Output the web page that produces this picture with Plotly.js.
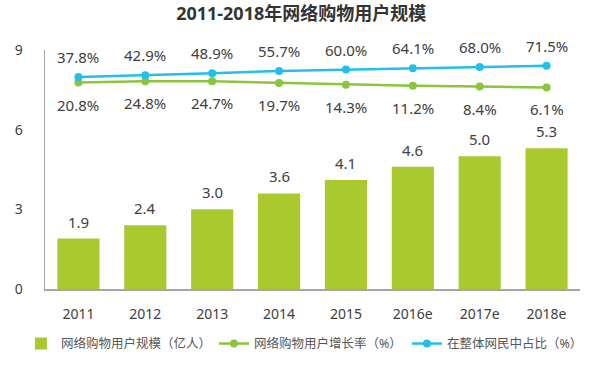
<!DOCTYPE html>
<html>
<head>
<meta charset="utf-8">
<script src="https://cdn.plot.ly/plotly-3.0.1.min.js"></script>
<style>html,body{margin:0;padding:0;background:#fff;}#chart{width:600px;height:366px;}</style>
</head>
<body>
<div id="chart"></div>
<script>
var years = ['2011', '2012', '2013', '2014', '2015', '2016e', '2017e', '2018e'];
var users = [1.9, 2.4, 3.0, 3.6, 4.1, 4.6, 5.0, 5.3];
var growth = [20.8, 24.8, 24.7, 19.7, 14.3, 11.2, 8.4, 6.1];
var share = [37.8, 42.9, 48.9, 55.7, 60.0, 64.1, 68.0, 71.5];
var yTicks = [0, 3, 6, 9];

var barColor = '#a9c92f';
var greenLine = '#8cc43c';
var blueLine = '#22c0e8';
var textColor = '#404040';
var fontFam = '"Noto Sans", "Noto Sans CJK SC", sans-serif';

var traces = [
  {type: 'bar', name: '网络购物用户规模（亿人）', x: years, y: users,
   marker: {color: barColor}, hoverinfo: 'none'},
  {type: 'scatter', mode: 'lines+markers', name: '网络购物用户增长率（%）', x: years, y: growth, yaxis: 'y2',
   line: {color: greenLine, width: 2.5}, marker: {color: greenLine, size: 8}},
  {type: 'scatter', mode: 'lines+markers', name: '在整体网民中占比（%）', x: years, y: share, yaxis: 'y2',
   line: {color: blueLine, width: 2.5}, marker: {color: blueLine, size: 8}}
];

var annotations = [];
years.forEach(function (yr, i) {
  // category axis: annotation x is the category index
  annotations.push({x: i, y: users[i], xref: 'x', yref: 'y', text: users[i].toFixed(1),
    showarrow: false, yanchor: 'bottom', yshift: 5, font: {size: 15, color: textColor, family: fontFam}});
  annotations.push({x: i, y: share[i], xref: 'x', yref: 'y2', text: share[i].toFixed(1) + '%',
    showarrow: false, yanchor: 'middle', yshift: 20, font: {size: 15, color: textColor, family: fontFam}});
  annotations.push({x: i, y: growth[i], xref: 'x', yref: 'y2', text: growth[i].toFixed(1) + '%',
    showarrow: false, yanchor: 'middle', yshift: -22, font: {size: 15, color: textColor, family: fontFam}});
});

var layout = {
  width: 600, height: 366,
  margin: {l: 45, r: 20, t: 50, b: 77, autoexpand: false},
  paper_bgcolor: '#ffffff', plot_bgcolor: '#ffffff',
  font: {family: fontFam, color: textColor, size: 14},
  title: {text: '<b>2011-2018年网络购物用户规模</b>', x: 0.502, xanchor: 'center', y: 0.962, yanchor: 'middle',
          font: {size: 18, color: '#333333', family: fontFam}},
  bargap: 0.37,
  showlegend: true,
  legend: {orientation: 'h', x: -0.045, xanchor: 'left', y: -0.167, yanchor: 'top',
           font: {size: 12.5, color: '#555555', family: fontFam}, itemwidth: 30, tracegroupgap: 0,
           entrywidth: 148, entrywidthmode: 'pixels', bgcolor: 'rgba(0,0,0,0)'},
  xaxis: {type: 'category', range: [-0.5, years.length - 0.5], showgrid: false, zeroline: false, showline: true,
          linecolor: '#a6a6a6', linewidth: 1.5,
          ticks: '', tickfont: {size: 14, color: textColor}, ticklabelstandoff: 12, fixedrange: true},
  yaxis: {range: [0, 9.0], tickvals: yTicks, showgrid: false, zeroline: false, showline: true,
          linecolor: '#a6a6a6', linewidth: 1.5, ticks: '', tickfont: {size: 14, color: textColor},
          ticklabelstandoff: 18, fixedrange: true},
  yaxis2: {overlaying: 'y', side: 'right', range: [-605, 119.4], visible: false, showgrid: false, zeroline: false, fixedrange: true},
  annotations: annotations
};

Plotly.newPlot('chart', traces, layout, {displayModeBar: false, staticPlot: true});
</script>
</body>
</html>
